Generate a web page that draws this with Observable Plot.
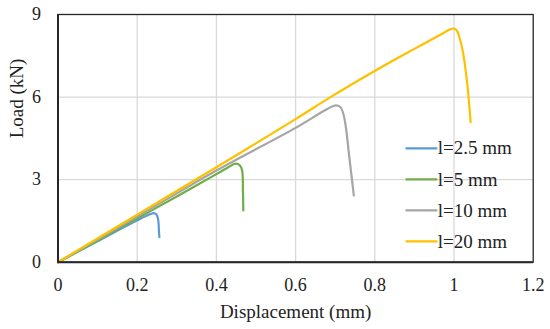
<!DOCTYPE html>
<html>
<head>
<meta charset="utf-8">
<script src="https://cdn.jsdelivr.net/npm/d3@7"></script>
<script src="https://cdn.jsdelivr.net/npm/@observablehq/plot@0.6"></script>
<style>
  html, body { margin: 0; padding: 0; background: #fff; }
  #chart { width: 550px; height: 329px; }
</style>
</head>
<body>
<div id="chart"></div>
<script>
// Series names and colours
const seriesNames = ["l=2.5 mm", "l=5 mm", "l=10 mm", "l=20 mm"];
const seriesColors = ["#5b9bd5", "#70ad47", "#a5a5a5", "#ffc000"];

// Displacement (mm) and load (kN)
const disp25 = [0, 0.1, 0.2, 0.232, 0.242, 0.248, 0.252, 0.254, 0.255, 0.256];
const load25 = [0, 0.76, 1.52, 1.74, 1.78, 1.74, 1.62, 1.4, 1.1, 0.91];

const disp5 = [0, 0.1, 0.2, 0.3, 0.4, 0.43, 0.448, 0.459, 0.465, 0.467, 0.468];
const load5 = [0, 0.79, 1.59, 2.39, 3.2, 3.45, 3.58, 3.52, 3.33, 2.6, 1.88];

const disp10 = [0, 0.2, 0.4, 0.6, 0.68, 0.701, 0.713, 0.72, 0.726, 0.735, 0.747];
const load10 = [0, 1.66, 3.33, 4.88, 5.57, 5.70, 5.64, 5.42, 5.0, 3.9, 2.43];

const disp20 = [0, 0.2, 0.4, 0.6, 0.688, 0.8, 0.9, 0.97, 0.99, 1.0, 1.007, 1.015, 1.021, 1.033, 1.042];
const load20 = [0, 1.73, 3.45, 5.2, 6.0, 6.95, 7.75, 8.3, 8.46, 8.49, 8.42, 8.1, 7.76, 6.55, 5.09];

// Axis ticks and labels
const xTicks = [0, 0.2, 0.4, 0.6, 0.8, 1, 1.2];
const yTicks = [0, 3, 6, 9];
const xLabel = "Displacement (mm)";
const yLabel = "Load (kN)";

const dispSeries = [disp25, disp5, disp10, disp20];
const loadSeries = [load25, load5, load10, load20];
const rows = [];
seriesNames.forEach((name, s) => {
  dispSeries[s].forEach((d, i) => rows.push({series: name, disp: d, load: loadSeries[s][i]}));
});

// Legend rows (placed inside the plot area, in data units)
const legend = seriesNames.map((name, i) => ({
  name, color: seriesColors[i], y: 4.135 - i * 1.127
}));

const font = "'Liberation Serif', 'Times New Roman', serif";
const ink = "#222";
const fmt = d => String(+d.toFixed(2));

const chart = Plot.plot({
  width: 550,
  height: 329,
  marginLeft: 57.5,
  marginRight: 17.3,
  marginTop: 14,
  marginBottom: 67.3,
  style: {fontFamily: font, color: ink, background: "#fff"},
  x: {domain: [0, 1.2], ticks: xTicks, tickFormat: fmt},
  y: {domain: [0, 9], ticks: yTicks, tickFormat: fmt},
  color: {domain: seriesNames, range: seriesColors},
  marks: [
    Plot.gridX(xTicks.filter(t => t > 0 && t < 1.2), {stroke: "#d9d9d9", strokeOpacity: 1, strokeWidth: 1.3}),
    Plot.gridY(yTicks.filter(t => t > 0 && t < 9), {stroke: "#d9d9d9", strokeOpacity: 1, strokeWidth: 1.3}),
    Plot.axisX(xTicks, {tickSize: 0, tickPadding: 16, fontSize: 18, label: null, fill: ink, tickFormat: fmt}),
    Plot.axisY(yTicks, {tickSize: 0, tickPadding: 17, fontSize: 18, label: null, fill: ink, tickFormat: fmt}),
    Plot.text([xLabel], {frameAnchor: "bottom", dy: 50, fontSize: 19, fill: ink, lineAnchor: "middle"}),
    Plot.text([yLabel], {frameAnchor: "left", dx: -41, rotate: -90, fontSize: 19, fill: ink, lineAnchor: "middle"}),
    Plot.line(rows, {x: "disp", y: "load", z: "series", stroke: "series", strokeWidth: 2.2, curve: "catmull-rom"}),
    Plot.frame({stroke: "#262626", strokeWidth: 1.3}),
    Plot.ruleX([0], {stroke: "#262626", strokeWidth: 2}),
    Plot.ruleY([0], {stroke: "#262626", strokeWidth: 2}),
    Plot.link(legend, {x1: () => 0.8775, x2: () => 0.958, y1: "y", y2: "y", stroke: "color", strokeWidth: 2.2}),
    Plot.text(legend, {x: () => 0.959, y: "y", text: "name", textAnchor: "start", fontSize: 19, fill: ink})
  ]
});
document.getElementById("chart").appendChild(chart);
</script>
</body>
</html>
